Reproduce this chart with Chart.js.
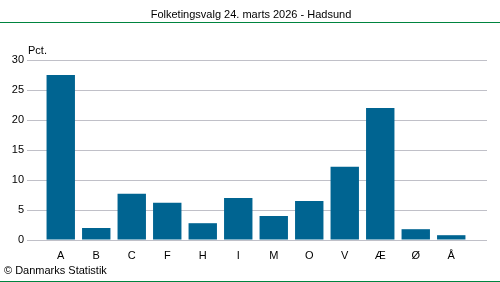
<!DOCTYPE html>
<html>
<head>
<meta charset="utf-8">
<script src="https://cdn.jsdelivr.net/npm/chart.js@4"></script>
<style>
  body { margin: 0; background: #fff; }
  canvas { display: block; }
</style>
</head>
<body>
<canvas id="grafico" width="500" height="282"></canvas>
<script>
// Datos del gráfico
const partier = ["A", "B", "C", "F", "H", "I", "M", "O", "V", "Æ", "Ø", "Å"];
const procent = [27.5, 2.0, 7.7, 6.2, 2.8, 7.0, 4.0, 6.5, 12.2, 22.0, 1.8, 0.8];
const titel = "Folketingsvalg 24. marts 2026 - Hadsund";
const enhed = "Pct.";
const kilde = "© Danmarks Statistik";

const FUENTE = "'Liberation Sans', Arial, sans-serif";
const GRIS = "#c0c0c8";
const VERDE = "#00843f";

// Textos y líneas verdes fuera del área del gráfico
const decoracion = {
    id: "decoracion",
    afterDraw(chart) {
        const ctx = chart.ctx;
        ctx.save();
        ctx.fillStyle = "#000";
        ctx.font = "11px " + FUENTE;
        ctx.textBaseline = "middle";
        ctx.textAlign = "center";
        ctx.fillText(titel, 251, 15);
        ctx.textAlign = "left";
        ctx.fillText(enhed, 28, 51);
        ctx.fillText(kilde, 4, 271);
        ctx.strokeStyle = VERDE;
        ctx.lineWidth = 1;
        ctx.beginPath();
        ctx.moveTo(0, 22.5); ctx.lineTo(500, 22.5);
        ctx.moveTo(0, 281.5); ctx.lineTo(500, 281.5);
        ctx.stroke();
        ctx.restore();
    }
};

new Chart(document.getElementById("grafico"), {
    type: "bar",
    data: {
        labels: partier,
        datasets: [{
            data: procent,
            backgroundColor: "#006491",
            barPercentage: 0.8,
            categoryPercentage: 1
        }]
    },
    options: {
        responsive: false,
        animation: false,
        devicePixelRatio: 1,
        layout: { padding: { top: 60, left: 0, right: 13, bottom: 0 } },
        plugins: {
            legend: { display: false },
            title: { display: false },
            tooltip: { enabled: false }
        },
        scales: {
            x: {
                grid: { display: false, drawTicks: false },
                border: { display: false },
                ticks: { color: "#000", font: { family: FUENTE, size: 11 }, padding: 9 },
                afterFit: s => { s.height = 42; }
            },
            y: {
                min: 0,
                max: 30,
                ticks: { stepSize: 5, color: "#000", font: { family: FUENTE, size: 11 }, padding: 3 },
                grid: { color: GRIS, tickLength: 16 },
                border: { display: false },
                afterFit: s => { s.width = 43; }
            },
            y2: {
                position: "right",
                min: 0,
                max: 30,
                ticks: { stepSize: 5, display: false },
                grid: { color: GRIS, tickLength: 18, drawOnChartArea: false },
                border: { display: false },
                afterFit: s => { s.width = 18; }
            }
        }
    },
    plugins: [decoracion]
});
</script>
</body>
</html>
